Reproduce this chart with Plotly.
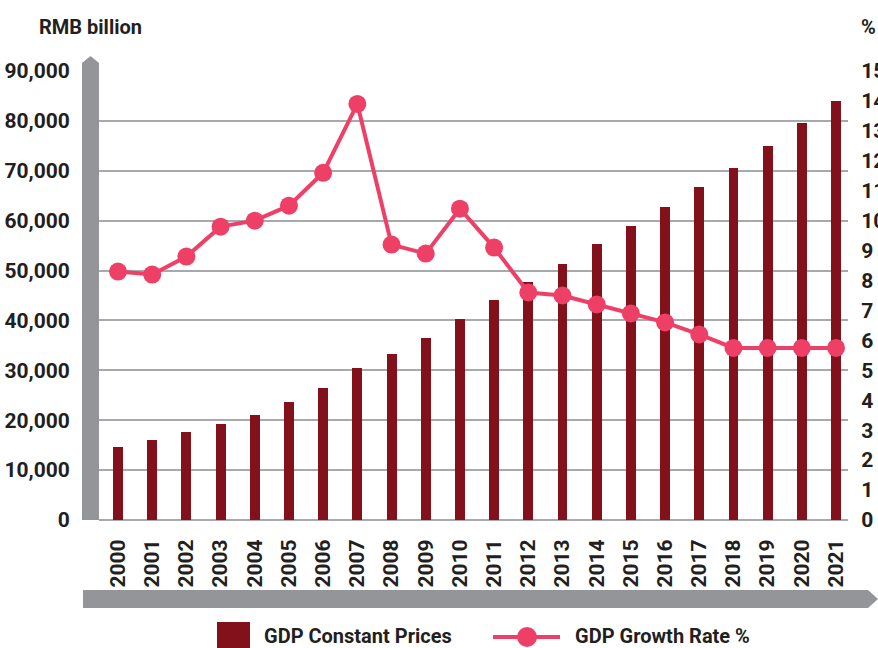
import plotly.graph_objects as go

years = list(range(2000, 2022))
gdp_constant = [14650, 16050, 17650, 19300, 21100, 23700, 26500, 30500, 33300, 36500,
                40300, 44100, 47800, 51400, 55300, 58900, 62700, 66700, 70500, 74900,
                79600, 84000]
growth_rate = [8.3, 8.2, 8.8, 9.8, 10.0, 10.5, 11.6, 13.9, 9.2, 8.9,
               10.4, 9.1, 7.6, 7.5, 7.2, 6.9, 6.6, 6.2, 5.75, 5.75,
               5.75, 5.75]
left_ticks = [0, 10000, 20000, 30000, 40000, 50000, 60000, 70000, 80000, 90000]
right_ticks = list(range(0, 16))

bar_color = "#83111b"
line_color = "#ee4066"
grey = "#939598"
text_color = "#231f20"
font_family = "Roboto, Liberation Sans, sans-serif"

W, H = 878, 648
L, R, T, B = 99, 848, 71, 520


def px(x):
    return (x - L) / (R - L)


def py(y):
    return (B - y) / (B - T)


fig = go.Figure()

fig.add_trace(go.Bar(
    x=years, y=gdp_constant, name="GDP Constant Prices",
    marker=dict(color=bar_color, line=dict(width=0)),
    width=0.29, showlegend=False,
))

fig.add_trace(go.Scatter(
    x=years, y=growth_rate, name="GDP Growth Rate %", yaxis="y2",
    mode="lines+markers",
    line=dict(color=line_color, width=4),
    marker=dict(color=line_color, size=18),
    showlegend=False, cliponaxis=False,
))

shapes = [
    # grey arrow on the left axis
    dict(type="path", xref="paper", yref="paper", layer="above",
         path=f"M {px(82)} {py(520)} L {px(82)} {py(63)} L {px(90.5)} {py(56)} "
              f"L {px(99)} {py(63)} L {px(99)} {py(520)} Z",
         fillcolor=grey, line=dict(width=0)),
    # grey arrow along the bottom
    dict(type="path", xref="paper", yref="paper", layer="above",
         path=f"M {px(83)} {py(590)} L {px(868)} {py(590)} L {px(878)} {py(599)} "
              f"L {px(868)} {py(608)} L {px(83)} {py(608)} Z",
         fillcolor=grey, line=dict(width=0)),
    # legend: bar swatch
    dict(type="rect", xref="paper", yref="paper",
         x0=px(217), x1=px(250), y0=py(622), y1=py(648),
         fillcolor=bar_color, line=dict(width=0)),
    # legend: line swatch
    dict(type="line", xref="paper", yref="paper",
         x0=px(493), x1=px(560), y0=py(637), y1=py(637),
         line=dict(color=line_color, width=4)),
    dict(type="circle", xref="paper", yref="paper",
         x0=px(517), x1=px(537), y0=py(627), y1=py(647),
         fillcolor=line_color, line=dict(width=0)),
]

label_font = dict(size=20, color=text_color, family=font_family, weight="bold")

annotations = [
    dict(text="RMB billion", xref="paper", yref="paper", x=px(37), y=py(27),
         xanchor="left", yanchor="middle", showarrow=False, font=label_font),
    dict(text="%", xref="paper", yref="paper", x=px(859), y=py(27),
         xanchor="left", yanchor="middle", showarrow=False, font=label_font),
    dict(text="GDP Constant Prices", xref="paper", yref="paper", x=px(262), y=py(636),
         xanchor="left", yanchor="middle", showarrow=False, font=label_font),
    dict(text="GDP Growth Rate %", xref="paper", yref="paper", x=px(573), y=py(636),
         xanchor="left", yanchor="middle", showarrow=False, font=label_font),
]

tick_font = dict(size=21, color=text_color, family=font_family, weight="bold")

fig.update_layout(
    width=W, height=H,
    margin=dict(l=L, r=W - R, t=T, b=H - B, pad=0),
    paper_bgcolor="white", plot_bgcolor="white",
    showlegend=False,
    bargap=0,
    xaxis=dict(
        range=[1999.444, 2021.35], tickmode="array", tickvals=years,
        ticktext=[str(y) for y in years], tickangle=-90, automargin=False,
        tickfont=tick_font, showgrid=False, zeroline=False,
        showline=False, ticks="outside", ticklen=10, tickcolor="rgba(0,0,0,0)",
    ),
    yaxis=dict(
        range=[0, 90000], tickmode="array", tickvals=left_ticks,
        ticktext=[f"{v:,}" for v in left_ticks], automargin=False,
        tickfont=tick_font, showgrid=True, gridcolor="#a7a9ac", gridwidth=1.5,
        zeroline=True, zerolinecolor="#a7a9ac", zerolinewidth=1.5,
        showline=False, ticks="outside", ticklen=24, tickcolor="rgba(0,0,0,0)",
    ),
    yaxis2=dict(
        range=[0, 15], overlaying="y", side="right", tickmode="array",
        tickvals=right_ticks, tickfont=tick_font, showgrid=False, automargin=False,
        zeroline=False, showline=False,
        ticks="outside", ticklen=8, tickcolor="rgba(0,0,0,0)",
    ),
    shapes=shapes,
    annotations=annotations,
)

# the page's default body margin would push the chart 8px down and right
fig.write_html("out.html", config={"displayModeBar": False},
               post_script="document.body.style.margin = '0';")
